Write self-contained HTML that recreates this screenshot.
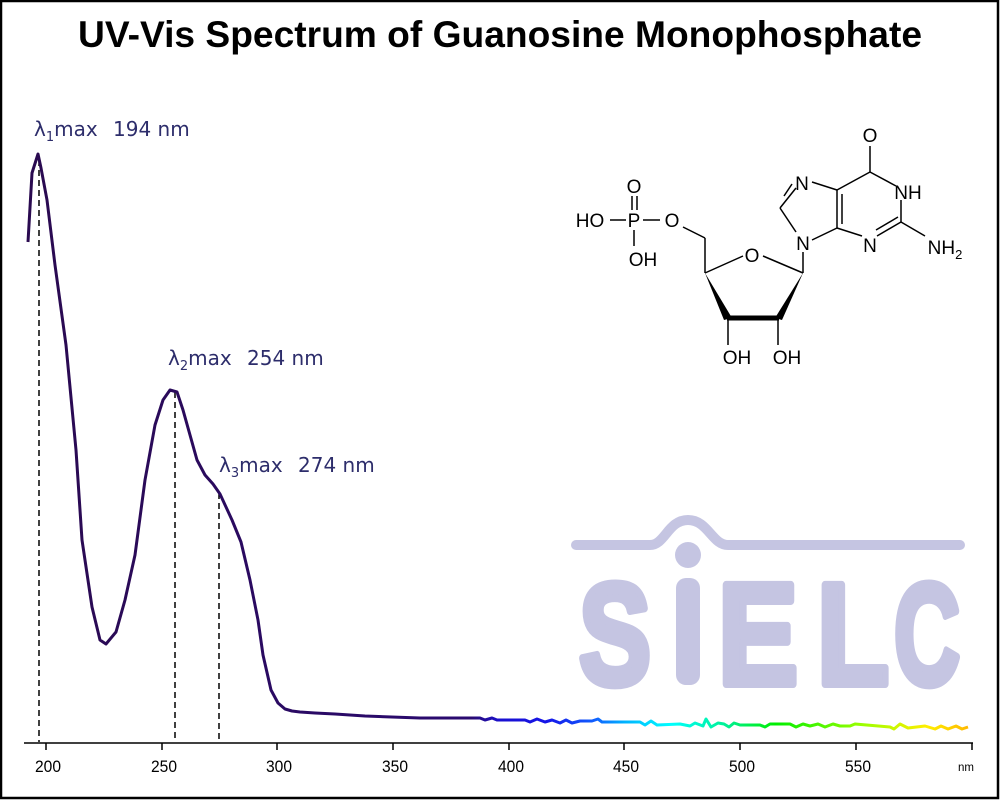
<!DOCTYPE html>
<html><head><meta charset="utf-8"><style>
html,body{margin:0;padding:0;background:#fff}
svg{display:block}
</style></head><body>
<svg width="1000" height="800" viewBox="0 0 1000 800" xmlns="http://www.w3.org/2000/svg">
<defs>
<linearGradient id="g" gradientUnits="userSpaceOnUse" x1="25" y1="0" x2="975" y2="0">
<stop offset="0" stop-color="#2a0a50"/>
<stop offset="0.47" stop-color="#2a0a70"/>
<stop offset="0.5" stop-color="#1a10d0"/>
<stop offset="0.55" stop-color="#1515e8"/>
<stop offset="0.6" stop-color="#1060ff"/>
<stop offset="0.63" stop-color="#00b0ff"/>
<stop offset="0.68" stop-color="#00ffff"/>
<stop offset="0.74" stop-color="#00f090"/>
<stop offset="0.79" stop-color="#00ee00"/>
<stop offset="0.88" stop-color="#99ff00"/>
<stop offset="0.95" stop-color="#ffee00"/>
<stop offset="1" stop-color="#ffb000"/>
</linearGradient>
</defs>
<rect x="1" y="1" width="997" height="797" fill="#fff" stroke="#000" stroke-width="2.5"/>
<text x="500" y="47" text-anchor="middle" font-family="Liberation Sans, sans-serif" font-weight="bold" font-size="37" textLength="844" lengthAdjust="spacingAndGlyphs">UV-Vis Spectrum of Guanosine Monophosphate</text>

<!-- SIELC logo -->
<g fill="#c5c5e2" stroke="#c5c5e2" stroke-linejoin="round">
<path d="M576,545 L650,545 C665,545 668,520 688,520 C708,520 712,545 728,545 L960,545" fill="none" stroke-width="10" stroke-linecap="round"/>
<circle cx="688" cy="555" r="13" stroke="none"/>
<rect x="676" y="578" width="24" height="107" rx="10" stroke="none"/>
<g font-family="Liberation Sans, sans-serif" font-weight="bold" font-size="144" stroke-width="8">
<text x="579" y="684" textLength="72" lengthAdjust="spacingAndGlyphs">S</text>
<text x="718" y="684" textLength="80" lengthAdjust="spacingAndGlyphs">E</text>
<text x="817" y="684" textLength="72" lengthAdjust="spacingAndGlyphs">L</text>
<text x="894" y="684" textLength="66" lengthAdjust="spacingAndGlyphs">C</text>
</g>
</g>

<!-- axis -->
<g stroke="#000" stroke-width="1.5">
<line x1="24" y1="743" x2="973" y2="743"/>
<line x1="46" y1="743" x2="46" y2="750"/><line x1="162" y1="743" x2="162" y2="750"/>
<line x1="277" y1="743" x2="277" y2="750"/><line x1="393" y1="743" x2="393" y2="750"/>
<line x1="509" y1="743" x2="509" y2="750"/><line x1="624" y1="743" x2="624" y2="750"/>
<line x1="740" y1="743" x2="740" y2="750"/><line x1="856" y1="743" x2="856" y2="750"/>
<line x1="972" y1="743" x2="972" y2="750"/>
</g>
<g font-family="Liberation Sans, sans-serif" font-size="17" text-anchor="middle" fill="#000">
<text x="48" y="772" textLength="26" lengthAdjust="spacingAndGlyphs">200</text><text x="164" y="772" textLength="26" lengthAdjust="spacingAndGlyphs">250</text><text x="279" y="772" textLength="26" lengthAdjust="spacingAndGlyphs">300</text>
<text x="395" y="772" textLength="26" lengthAdjust="spacingAndGlyphs">350</text><text x="511" y="772" textLength="26" lengthAdjust="spacingAndGlyphs">400</text><text x="626" y="772" textLength="26" lengthAdjust="spacingAndGlyphs">450</text>
<text x="742" y="772" textLength="26" lengthAdjust="spacingAndGlyphs">500</text><text x="858" y="772" textLength="26" lengthAdjust="spacingAndGlyphs">550</text>
<text x="966" y="771" font-size="12" textLength="16" lengthAdjust="spacingAndGlyphs">nm</text>
</g>

<!-- dashed lines -->
<g stroke="#000" stroke-width="1.5" stroke-dasharray="6,4">
<line x1="39" y1="160" x2="39" y2="742"/>
<line x1="175" y1="392" x2="175" y2="742"/>
<line x1="219" y1="493" x2="219" y2="742"/>
</g>

<!-- spectrum -->
<polyline fill="none" stroke="url(#g)" stroke-width="3" stroke-linejoin="round" points="28,242 32,173 38,154 41,168 47,200 55,265 66,345 76,450 82,540 92,607 100,640 106,644 116,632 125,600 135,555 145,480 155,425 163,400 170,390 177,392 183,410 190,435 197,460 205,475 213,484 220,494 232,520 241,542 250,580 258,620 263,655 271,690 278,703 285,709 292,711 300,712 315,713 335,714 365,716 420,718 480,718 485,720 492,718 497,720 525,720 530,722 537,719 545,722 552,720 560,723 566,720 572,723 580,721 592,721 598,719 602,722 640,722 645,725 651,721 657,725 680,724 690,726 695,723 703,726 706,719 711,727 718,723 724,724 729,727 734,723 740,725 760,725 765,727 770,724 790,724 796,727 803,724 810,726 818,724 825,727 833,724 840,726 850,726 855,724 890,727 894,729 900,724 908,728 925,726 935,729 941,726 948,729 956,726 962,729 968,727"/>

<!-- labels -->
<g font-family="DejaVu Sans, Liberation Sans, sans-serif" font-size="20" fill="#2d2d6b">
<text x="34" y="136">λ<tspan font-size="13" dy="5">1</tspan><tspan dy="-5">max</tspan><tspan x="113">194 nm</tspan></text>
<text x="168" y="365">λ<tspan font-size="13" dy="5">2</tspan><tspan dy="-5">max</tspan><tspan x="247">254 nm</tspan></text>
<text x="219" y="472">λ<tspan font-size="13" dy="5">3</tspan><tspan dy="-5">max</tspan><tspan x="298">274 nm</tspan></text>
</g>

<!-- molecule -->
<g stroke="#000" stroke-width="1.5" fill="none">
<line x1="870" y1="146" x2="870" y2="172"/>
<line x1="870" y1="172" x2="896" y2="186"/>
<line x1="901" y1="200" x2="901" y2="222"/>
<line x1="901" y1="222" x2="925" y2="236"/>
<line x1="901" y1="222" x2="877" y2="236"/>
<line x1="898" y1="217" x2="876" y2="230"/>
<line x1="862" y1="236" x2="837" y2="228"/>
<line x1="837" y1="228" x2="837" y2="190"/>
<line x1="842" y1="224" x2="842" y2="194"/>
<line x1="837" y1="190" x2="870" y2="172"/>
<line x1="837" y1="190" x2="812" y2="182"/>
<line x1="837" y1="228" x2="812" y2="240"/>
<line x1="796" y1="188" x2="780" y2="208"/>
<line x1="792" y1="184" x2="784" y2="196"/>
<line x1="780" y1="208" x2="796" y2="232"/>
<line x1="803" y1="252" x2="803" y2="273"/>
<line x1="803" y1="273" x2="763" y2="256"/>
<line x1="743" y1="256" x2="705" y2="273"/>
<line x1="705" y1="273" x2="705" y2="238"/>
<line x1="705" y1="238" x2="683" y2="227"/>
<line x1="660" y1="220" x2="643" y2="220"/>
<line x1="626" y1="220" x2="610" y2="220"/>
<line x1="632" y1="196" x2="632" y2="210"/>
<line x1="637" y1="196" x2="637" y2="210"/>
<line x1="634" y1="230" x2="634" y2="246"/>
<line x1="728" y1="320" x2="728" y2="345"/>
<line x1="778" y1="320" x2="778" y2="345"/>
</g>
<polygon points="705,273 724,320 732,318" fill="#000"/>
<polygon points="803,273 775,318 782,320" fill="#000"/>
<line x1="727" y1="318" x2="779" y2="318" stroke="#000" stroke-width="5"/>
<g font-family="Liberation Sans, sans-serif" font-size="19" fill="#000" text-anchor="middle">
<text x="870" y="142">O</text>
<text x="908" y="199">NH</text>
<text x="870" y="252">N</text>
<text x="945" y="254">NH<tspan font-size="13" dy="5">2</tspan></text>
<text x="802" y="190">N</text>
<text x="803" y="250">N</text>
<text x="752" y="262">O</text>
<text x="672" y="227">O</text>
<text x="634" y="227">P</text>
<text x="634" y="193">O</text>
<text x="590" y="227">HO</text>
<text x="643" y="266">OH</text>
<text x="737" y="364">OH</text>
<text x="787" y="364">OH</text>
</g>
</svg>
</body></html>
